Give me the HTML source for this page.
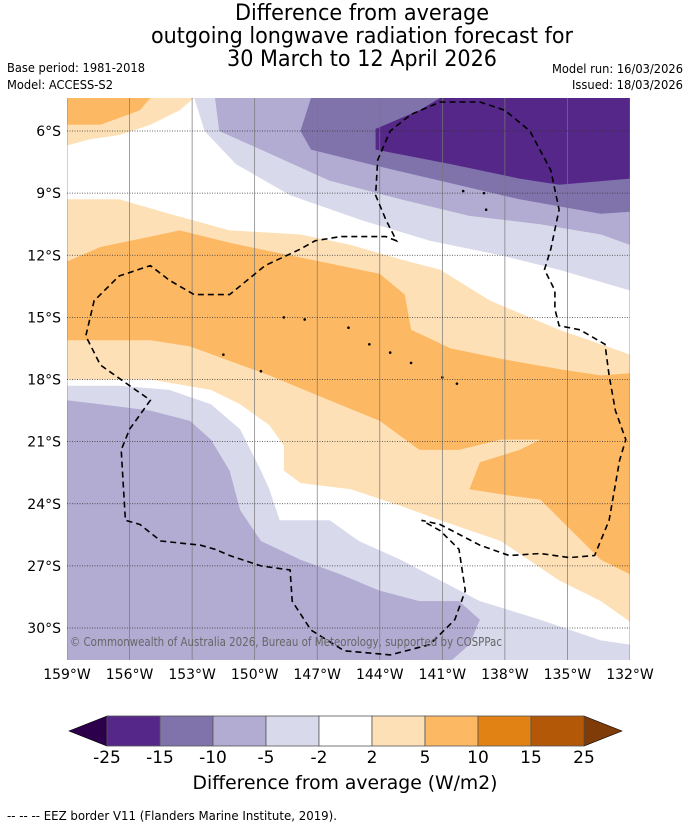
<!DOCTYPE html>
<html><head><meta charset="utf-8"><style>
html,body{margin:0;padding:0;background:#fff;width:690px;height:827px;overflow:hidden}
svg text{font-family:"DejaVu Sans","Liberation Sans",sans-serif}
</style></head><body>
<svg id="chart" width="690" height="827" viewBox="0 0 690 827" xmlns="http://www.w3.org/2000/svg">
<g font-size="22" text-anchor="middle" fill="#000">
<text x="362" y="20" textLength="254" lengthAdjust="spacingAndGlyphs">Difference from average</text>
<text x="362" y="43" textLength="422" lengthAdjust="spacingAndGlyphs">outgoing longwave radiation forecast for</text>
<text x="362" y="66" textLength="270" lengthAdjust="spacingAndGlyphs">30 March to 12 April 2026</text>
</g>
<g font-size="12.5" fill="#000">
<text x="7" y="72" textLength="138" lengthAdjust="spacingAndGlyphs">Base period: 1981-2018</text>
<text x="7" y="89" textLength="106" lengthAdjust="spacingAndGlyphs">Model: ACCESS-S2</text>
<text x="552" y="73" textLength="131" lengthAdjust="spacingAndGlyphs">Model run: 16/03/2026</text>
<text x="572" y="89" textLength="111" lengthAdjust="spacingAndGlyphs">Issued: 18/03/2026</text>
</g>
<defs><clipPath id="mapclip"><rect x="67" y="98" width="563" height="562"/></clipPath></defs>
<g id="map" clip-path="url(#mapclip)"></g>
<g id="axes"></g>
<g id="cbar"></g>
<text x="345" y="789" font-size="19" text-anchor="middle" textLength="305" lengthAdjust="spacingAndGlyphs">Difference from average (W/m2)</text>
<text x="7" y="820" font-size="12" textLength="330" lengthAdjust="spacingAndGlyphs">--  --  -- EEZ border V11 (Flanders Marine Institute, 2019).</text>
</svg>
<script>
const lonTicks=[-159,-156,-153,-150,-147,-144,-141,-138,-135,-132];
const latTicks=[-6,-9,-12,-15,-18,-21,-24,-27,-30];
const levels=[-25,-15,-10,-5,-2,2,5,10,15,25];
const levelColors=["#542788","#8073ac","#b2abd2","#d8daeb","#ffffff","#fee0b6","#fdb863","#e08214","#b35806"];
const underColor="#2d004b", overColor="#7f3b08";
const fieldRegions=[
 {name:"orange-light-northwest",color:"#fee0b6",pts:[[-159,-4.4],[-152.9,-4.4],[-153.6,-5],[-155,-5.7],[-156.5,-6.2],[-157.9,-6.4],[-159,-6.7]]},
 {name:"orange-northwest",color:"#fdb863",pts:[[-159,-4.4],[-155,-4.4],[-155.5,-5],[-157.4,-5.7],[-159,-5.7]]},
 {name:"purple-light-north",color:"#d8daeb",pts:[[-152.9,-4.4],[-152.4,-6],[-150.9,-7.6],[-148.3,-9.1],[-144.9,-10.3],[-141.6,-11.3],[-138.2,-12],[-135.4,-12.7],[-132,-13.7],[-132,-4.4]]},
 {name:"purple-mid-north",color:"#b2abd2",pts:[[-151.9,-4.4],[-151.7,-6],[-149.7,-6.9],[-146.4,-8.4],[-143,-9.3],[-139.7,-10.1],[-136.3,-10.5],[-133.4,-11],[-132,-11.5],[-132,-4.4]]},
 {name:"purple-dark-north",color:"#8073ac",pts:[[-147.3,-4.4],[-147.8,-6],[-147.3,-6.9],[-144.5,-7.6],[-141.1,-8.4],[-137.3,-9.3],[-133.4,-10],[-132,-9.9],[-132,-4.4]]},
 {name:"purple-darkest-north",color:"#542788",pts:[[-141.1,-4.4],[-142.1,-5],[-144.2,-5.9],[-144.2,-6.9],[-140.6,-7.6],[-137.3,-8.3],[-135.4,-8.6],[-132,-8.3],[-132,-4.4]]},
 {name:"orange-light-band",color:"#fee0b6",pts:[[-159,-9.3],[-156.5,-9.3],[-154.1,-10],[-151.2,-10.8],[-147.8,-11],[-145.4,-11.5],[-143,-12.2],[-141.1,-12.7],[-138.7,-14.2],[-135.4,-15.6],[-133.4,-16.3],[-132,-16.8],[-132,-29.7],[-133.4,-28.7],[-135.4,-27.7],[-138.2,-25.8],[-141.1,-24.8],[-143,-24.1],[-145.4,-23.3],[-147.8,-23],[-148.6,-22.4],[-148.6,-21.2],[-149.3,-20.2],[-150.7,-19.2],[-152.1,-18.5],[-155,-18.0],[-159,-18.0]]},
 {name:"orange-band",color:"#fdb863",pts:[[-159,-12.3],[-157.4,-11.6],[-155,-11.1],[-153.6,-10.8],[-151.2,-11.4],[-148.8,-11.9],[-146.4,-12.4],[-144,-12.9],[-142.8,-13.9],[-142.5,-15.6],[-140.6,-16.5],[-138.2,-17.0],[-135.4,-17.5],[-133.4,-17.8],[-132,-17.7],[-132,-27.4],[-133.4,-26.7],[-134.9,-25.2],[-136.3,-23.8],[-137.8,-23.6],[-139.7,-23.3],[-139.2,-22.0],[-137.3,-21.4],[-136.3,-20.9],[-138.2,-20.9],[-140.2,-21.4],[-142.1,-21.4],[-144,-20.0],[-146.9,-18.8],[-149.3,-17.8],[-151.2,-17.1],[-153.1,-16.4],[-155,-16.1],[-159,-16.1]]},
 {name:"purple-light-south",color:"#d8daeb",pts:[[-159,-18.3],[-156.5,-18.3],[-154.1,-18.5],[-152.1,-19.2],[-150.7,-20.4],[-149.7,-22.4],[-149.3,-23.3],[-148.8,-24.8],[-146.4,-24.8],[-145,-25.8],[-143,-26.7],[-141.1,-27.7],[-139.2,-28.7],[-136.3,-29.6],[-133.4,-30.6],[-132,-30.8],[-132,-31.6],[-159,-31.6]]},
 {name:"purple-mid-south",color:"#b2abd2",pts:[[-159,-19.0],[-157.4,-19.2],[-155,-19.5],[-153.1,-20.0],[-152.1,-20.9],[-151.2,-22.4],[-150.7,-24.3],[-149.7,-25.8],[-147.8,-26.7],[-145.9,-27.4],[-144,-28.2],[-142.1,-28.7],[-140.2,-28.7],[-139.2,-29.6],[-139.7,-30.8],[-140.6,-31.6],[-159,-31.6]]}
];
const eezBorder=[[-143.2,-11.3],[-143.7,-11.1],[-144.9,-11.1],[-145.9,-11.1],[-147.1,-11.3],[-147.8,-11.7],[-149.5,-12.5],[-151.2,-13.9],[-152.9,-13.9],[-154.1,-13.2],[-155,-12.5],[-156.5,-13],[-157.7,-14.2],[-158.1,-15.9],[-157.4,-17.3],[-156,-18.3],[-155,-19],[-156,-20.4],[-156.4,-21.4],[-156.2,-24.8],[-155.5,-25],[-154.5,-25.8],[-152.6,-26],[-151.9,-26.2],[-151.2,-26.5],[-149.7,-27],[-148.3,-27.2],[-148.2,-28.7],[-147.3,-30.1],[-145.7,-31.1],[-143.5,-31.3],[-141.6,-30.8],[-140.4,-29.6],[-139.9,-28.2],[-140.2,-26.2],[-141.1,-25.3],[-142,-24.8],[-141.1,-25],[-139.2,-26],[-137.8,-26.5],[-136.3,-26.4],[-134.9,-26.6],[-133.7,-26.5],[-133,-24.8],[-132.5,-21.9],[-132.2,-20.9],[-132.7,-19.5],[-133,-17.8],[-133.2,-16.3],[-134.4,-15.6],[-135.4,-15.4],[-135.6,-14.6],[-135.6,-13.7],[-136.1,-12.7],[-135.8,-11.7],[-135.4,-9.8],[-135.8,-7.9],[-136.8,-6],[-138,-5],[-139.2,-4.6],[-141.1,-4.6],[-142.5,-5.2],[-143.5,-6],[-144.1,-7.4],[-144.2,-9.1],[-143.7,-10.3]];
const islands=[[-145.5,-15.5],[-144.5,-16.3],[-143.5,-16.7],[-142.5,-17.2],[-141.0,-17.9],[-140.3,-18.2],[-149.7,-17.6],[-151.5,-16.8],[-139,-9.0],[-140,-8.9],[-138.9,-9.8],[-147.6,-15.1],[-148.6,-15.0]];

const NS="http://www.w3.org/2000/svg";
const X0=67,X1=630,LON0=-159,LON1=-132;
const Y6=131,Y30=628;
function xScale(lon){return X0+(lon-LON0)*(X1-X0)/(LON1-LON0);}
function yScale(lat){return Y6+(-6-lat)*(Y30-Y6)/24;}
function mk(tag,attrs,parent){const e=document.createElementNS(NS,tag);for(const k in attrs)e.setAttribute(k,attrs[k]);parent.appendChild(e);return e;}
const map=document.getElementById('map');
const bg=mk('rect',{x:67,y:98,width:563,height:562,fill:"#ffffff"},map);


fieldRegions.forEach(r=>{
 const d=r.pts.map((p,i)=>(i?'L':'M')+xScale(p[0]).toFixed(1)+' '+yScale(p[1]).toFixed(1)).join(' ')+'Z';
 const p=mk('path',{d:d,fill:r.color},map);
 
 
});
islands.forEach(c=>{
 const e=mk('circle',{cx:xScale(c[0]),cy:yScale(c[1]),r:1.3,fill:"#000"},map);
 
 
});
lonTicks.forEach(l=>{
 const g=mk('line',{x1:xScale(l),x2:xScale(l),y1:98,y2:660,stroke:"#777",'stroke-width':0.7},map);
 
 
});
latTicks.forEach(l=>{
 const g=mk('line',{x1:67,x2:630,y1:yScale(l),y2:yScale(l),stroke:"#333",'stroke-width':0.7,'stroke-dasharray':'1 1.5'},map);
 
 
});
const eez=mk('path',{d:eezBorder.map((p,i)=>(i?'L':'M')+xScale(p[0]).toFixed(1)+' '+yScale(p[1]).toFixed(1)).join(' ')+'Z',fill:"none",stroke:"#000",'stroke-width':1.6,'stroke-dasharray':'6 4'},map);


const cp=mk('text',{x:70,y:646,'font-size':12.5,fill:"#666",textLength:432,lengthAdjust:"spacingAndGlyphs"},map);
cp.textContent="© Commonwealth of Australia 2026, Bureau of Meteorology, supported by COSPPac";


const axes=document.getElementById('axes');
lonTicks.forEach(l=>{
 const t=mk('text',{x:xScale(l),y:679,'font-size':14,'text-anchor':'middle'},axes);
 t.textContent=Math.abs(l)+'°W';
 
 
});
latTicks.forEach(l=>{
 const t=mk('text',{x:61,y:yScale(l)+5,'font-size':14,'text-anchor':'end'},axes);
 t.textContent=Math.abs(l)+'°S';
 
 
});
const cb=document.getElementById('cbar');
const CB0=107,CB1=584,CBY=716,CBH=30;
const segW=(CB1-CB0)/levelColors.length;
const lt=mk('polygon',{points:`${CB0},${CBY} ${69},${CBY+CBH/2} ${CB0},${CBY+CBH}`,fill:underColor,stroke:"#000",'stroke-width':0.6},cb);


const rt=mk('polygon',{points:`${CB1},${CBY} ${622},${CBY+CBH/2} ${CB1},${CBY+CBH}`,fill:overColor,stroke:"#000",'stroke-width':0.6},cb);


levelColors.forEach((c,i)=>{
 const r=mk('rect',{x:CB0+i*segW,y:CBY,width:segW,height:CBH,fill:c,stroke:"#555",'stroke-width':0.8},cb);
 
 
});
levels.forEach((v,i)=>{
 const t=mk('text',{x:CB0+i*segW,y:CBY+CBH+17,'font-size':17,'text-anchor':'middle'},cb);
 t.textContent=String(v);
 
 
});
</script>
</body></html>
